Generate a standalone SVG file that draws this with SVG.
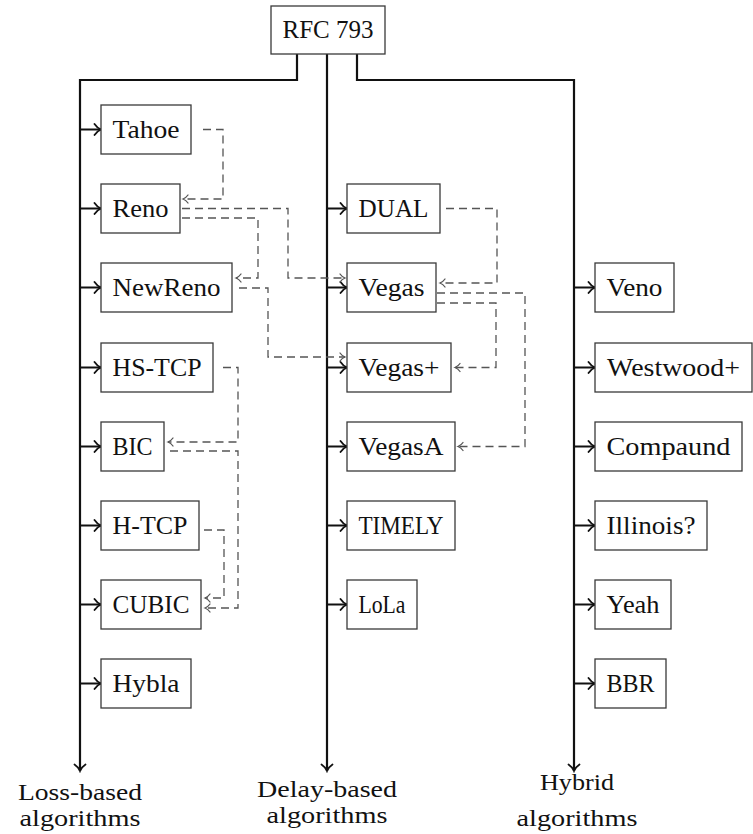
<svg xmlns="http://www.w3.org/2000/svg" width="753" height="834" viewBox="0 0 753 834">
  <style>
    .box rect { fill: #ffffff; stroke: #3a3a3a; stroke-width: 1.3; }
    .box text, .lbl { font-family: "Liberation Serif", "Times New Roman", serif; font-size: 25px; fill: #111111; text-anchor: middle; }
    .lbl { font-size: 23px; }
    .trunk { fill: none; stroke: #111111; stroke-width: 2.2; marker-end: url(#tip); }
    .feed { fill: none; stroke: #111111; stroke-width: 2; marker-end: url(#tip); }
    .dash { fill: none; stroke: #555555; stroke-width: 1.3; stroke-dasharray: 8 5; marker-end: url(#dtip); }
  </style>
  <defs>
    <marker id="tip" viewBox="-9 -7 11 14" refX="0" refY="0" markerWidth="11" markerHeight="14" markerUnits="userSpaceOnUse" orient="auto">
      <path d="M-6.5,-5.5 C-4.5,-2.5 -2,-0.8 0,0 C-2,0.8 -4.5,2.5 -6.5,5.5" fill="none" stroke="#111111" stroke-width="1.8" stroke-linecap="round"/>
    </marker>
    <marker id="dtip" viewBox="-8 -6 10 12" refX="0" refY="0" markerWidth="10" markerHeight="12" markerUnits="userSpaceOnUse" orient="auto">
      <path d="M-5,-4 C-3.5,-1.8 -1.5,-0.6 0,0 C-1.5,0.6 -3.5,1.8 -5,4" fill="none" stroke="#555555" stroke-width="1.3" stroke-linecap="round"/>
    </marker>
  </defs>

  <!-- connectors: trunks, feeds into each node, and dashed derivation links -->
  <g id="connectors">
    <path class="trunk" d="M297,54 V80 H80 V771"/>
    <path class="trunk" d="M327,54 V771"/>
    <path class="trunk" d="M357,54 V80 H574 V771"/>

    <path class="feed" d="M80,129.5 H101"/>
    <path class="feed" d="M80,208.5 H101"/>
    <path class="feed" d="M80,287.5 H101"/>
    <path class="feed" d="M80,367.5 H101"/>
    <path class="feed" d="M80,446.5 H101"/>
    <path class="feed" d="M80,525.5 H101"/>
    <path class="feed" d="M80,604.5 H101"/>
    <path class="feed" d="M80,683.5 H101"/>

    <path class="feed" d="M327,208.5 H347"/>
    <path class="feed" d="M327,287.5 H347"/>
    <path class="feed" d="M327,367.5 H347"/>
    <path class="feed" d="M327,446.5 H347"/>
    <path class="feed" d="M327,525.5 H347"/>
    <path class="feed" d="M327,604.5 H347"/>

    <path class="feed" d="M574,287.5 H595"/>
    <path class="feed" d="M574,367.5 H595"/>
    <path class="feed" d="M574,446.5 H595"/>
    <path class="feed" d="M574,525.5 H595"/>
    <path class="feed" d="M574,604.5 H595"/>
    <path class="feed" d="M574,683.5 H595"/>

    <path class="dash" d="M203,129.5 H223 V199 H183"/>
    <path class="dash" d="M182,208.5 H288 V278 H345"/>
    <path class="dash" d="M182,218 H258 V278 H236"/>
    <path class="dash" d="M239,288 H268 V357 H345"/>
    <path class="dash" d="M223,367.5 H238 V442 H168"/>
    <path class="dash" d="M170,451 H238 V608 H205"/>
    <path class="dash" d="M204,530 H224 V598 H205"/>
    <path class="dash" d="M446,208.5 H497 V283 H440"/>
    <path class="dash" d="M437,293 H525 V446.5 H458"/>
    <path class="dash" d="M437,303 H496 V367.5 H455"/>
  </g>

  <g id="rfc793" class="box"><rect x="271" y="6" width="114" height="48"/><text x="328" y="38" textLength="91" lengthAdjust="spacingAndGlyphs">RFC 793</text></g>

  <!-- loss-based column -->
  <g id="tahoe" class="box"><rect x="101" y="105" width="90" height="49"/><text x="146" y="138" textLength="67" lengthAdjust="spacingAndGlyphs">Tahoe</text></g>
  <g id="reno" class="box"><rect x="101" y="184" width="79" height="49"/><text x="140.5" y="217" textLength="56" lengthAdjust="spacingAndGlyphs">Reno</text></g>
  <g id="newreno" class="box"><rect x="101" y="263" width="131" height="49"/><text x="166.5" y="296" textLength="108" lengthAdjust="spacingAndGlyphs">NewReno</text></g>
  <g id="hs-tcp" class="box"><rect x="101" y="343" width="112" height="49"/><text x="157" y="376" textLength="89" lengthAdjust="spacingAndGlyphs">HS-TCP</text></g>
  <g id="bic" class="box"><rect x="101" y="422" width="63" height="49"/><text x="132.5" y="455" textLength="40" lengthAdjust="spacingAndGlyphs">BIC</text></g>
  <g id="h-tcp" class="box"><rect x="101" y="501" width="98" height="49"/><text x="150" y="534" textLength="75" lengthAdjust="spacingAndGlyphs">H-TCP</text></g>
  <g id="cubic" class="box"><rect x="101" y="580" width="100" height="49"/><text x="151" y="613" textLength="77" lengthAdjust="spacingAndGlyphs">CUBIC</text></g>
  <g id="hybla" class="box"><rect x="101" y="659" width="90" height="49"/><text x="146" y="692" textLength="67" lengthAdjust="spacingAndGlyphs">Hybla</text></g>

  <!-- delay-based column -->
  <g id="dual" class="box"><rect x="347" y="184" width="93" height="49"/><text x="393.5" y="217" textLength="70" lengthAdjust="spacingAndGlyphs">DUAL</text></g>
  <g id="vegas" class="box"><rect x="347" y="263" width="89" height="49"/><text x="391.5" y="296" textLength="66" lengthAdjust="spacingAndGlyphs">Vegas</text></g>
  <g id="vegas-plus" class="box"><rect x="347" y="343" width="104" height="49"/><text x="399" y="376" textLength="81" lengthAdjust="spacingAndGlyphs">Vegas+</text></g>
  <g id="vegasa" class="box"><rect x="347" y="422" width="108" height="49"/><text x="401" y="455" textLength="85" lengthAdjust="spacingAndGlyphs">VegasA</text></g>
  <g id="timely" class="box"><rect x="347" y="501" width="108" height="49"/><text x="401" y="534" textLength="85" lengthAdjust="spacingAndGlyphs">TIMELY</text></g>
  <g id="lola" class="box"><rect x="347" y="580" width="70" height="49"/><text x="382" y="613" textLength="47" lengthAdjust="spacingAndGlyphs">LoLa</text></g>

  <!-- hybrid column -->
  <g id="veno" class="box"><rect x="595" y="263" width="79" height="49"/><text x="634.5" y="296" textLength="56" lengthAdjust="spacingAndGlyphs">Veno</text></g>
  <g id="westwood-plus" class="box"><rect x="595" y="343" width="157" height="49"/><text x="673.5" y="376" textLength="133" lengthAdjust="spacingAndGlyphs">Westwood+</text></g>
  <g id="compaund" class="box"><rect x="595" y="422" width="147" height="49"/><text x="668.5" y="455" textLength="124" lengthAdjust="spacingAndGlyphs">Compaund</text></g>
  <g id="illinois" class="box"><rect x="595" y="501" width="112" height="49"/><text x="651" y="534" textLength="89" lengthAdjust="spacingAndGlyphs">Illinois?</text></g>
  <g id="yeah" class="box"><rect x="595" y="580" width="76" height="49"/><text x="633" y="613" textLength="53" lengthAdjust="spacingAndGlyphs">Yeah</text></g>
  <g id="bbr" class="box"><rect x="595" y="659" width="71" height="49"/><text x="630.5" y="692" textLength="48" lengthAdjust="spacingAndGlyphs">BBR</text></g>

  <!-- column captions -->
  <g id="loss-based">
    <text class="lbl" x="80" y="800" textLength="124" lengthAdjust="spacingAndGlyphs">Loss-based</text>
    <text class="lbl" x="80" y="826" textLength="121" lengthAdjust="spacingAndGlyphs">algorithms</text>
  </g>
  <g id="delay-based">
    <text class="lbl" x="327" y="797" textLength="140" lengthAdjust="spacingAndGlyphs">Delay-based</text>
    <text class="lbl" x="327" y="823" textLength="121" lengthAdjust="spacingAndGlyphs">algorithms</text>
  </g>
  <g id="hybrid">
    <text class="lbl" x="577" y="790" textLength="74" lengthAdjust="spacingAndGlyphs">Hybrid</text>
    <text class="lbl" x="577" y="826" textLength="121" lengthAdjust="spacingAndGlyphs">algorithms</text>
  </g>
</svg>
